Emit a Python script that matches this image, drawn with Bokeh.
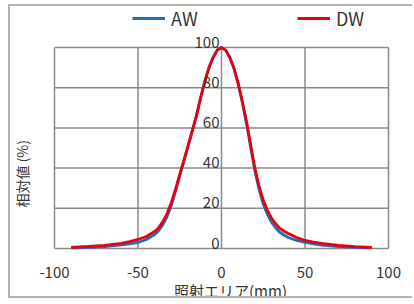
import math
from bokeh.plotting import figure
from bokeh.models import Range1d, Label, Legend, LegendItem
from bokeh.embed import file_html
from bokeh.resources import INLINE

# data
x_aw = [-90, -80, -70, -60, -55, -50, -45, -40, -37.5, -35, -32.5, -30, -27.5, -25, -22.5,
        -20, -17.5, -15, -12.5, -10, -7.5, -5, -2.5, 0, 2.5, 5, 7.5, 10, 12.5, 15, 17.5,
        20, 22.5, 25, 27.5, 30, 32.5, 35, 37.5, 40, 45, 50, 55, 60, 70, 80, 88]
aw = [0.3, 0.6, 1.0, 1.8, 2.3, 3.0, 4.5, 7.0, 9.0, 12, 16, 21.5, 28.5, 36, 43.5,
      51, 58.5, 66, 75, 83, 90, 95, 98.8, 100, 98.7, 95, 89.5, 82, 72.5, 62, 50,
      38.5, 29.5, 22, 17, 13, 10.2, 8, 6.6, 5.5, 4.0, 3.0, 2.3, 1.7, 1.0, 0.6, 0.3]
x_dw = [-90, -80, -70, -60, -55, -50, -45, -40, -37.5, -35, -32.5, -30, -27.5, -25, -22.5,
        -20, -17.5, -15, -12.5, -10, -7.5, -5, -2.5, 0, 2.5, 5, 7.5, 10, 12.5, 15, 17.5,
        20, 22.5, 25, 27.5, 30, 32.5, 35, 37.5, 40, 45, 50, 55, 60, 70, 80, 90]
dw = [0.6, 1.0, 1.6, 2.6, 3.4, 4.5, 6.0, 8.5, 10.5, 13.5, 17.5, 23, 29.5, 37, 44,
      51, 58.5, 66, 75, 83, 90, 95, 98.8, 100, 98.7, 95, 89.5, 82, 73, 63, 51.5,
      40, 31, 24, 19, 15, 12.2, 10, 8.6, 7.5, 5.5, 4.0, 3.2, 2.5, 1.5, 0.9, 0.5]
x_ticks = [-100, -50, 0, 50, 100]
x_tick_labels = ["-100", "-50", "0", "50", "100"]
y_ticks = [0, 20, 40, 60, 80, 100]
y_tick_labels = ["0", "20", "40", "60", "80", "100"]
x_title = "照射エリア(mm)"
y_title = "相対値 (%)"

FONT = "Noto Sans CJK JP"
TXT = "#333333"
GRID = "#8a8a8a"
BLUE = "#1f6fb6"
RED = "#e60012"

X_LO, X_HI = x_ticks[0], x_ticks[-1]
Y_LO, Y_HI = y_ticks[0], y_ticks[-1]
# the frame fills the whole canvas; ranges leave room for the texts round the grid box
X_RANGE = (-126.35, 115.57)
Y_RANGE = (-25.87, 120.4)

p = figure(width=404, height=294, output_backend="svg", toolbar_location=None,
           x_range=Range1d(*X_RANGE), y_range=Range1d(*Y_RANGE), min_border=0)
p.styles = {"border-left": "2px solid #b4b4b4", "border-top": "2px solid #b4b4b4",
            "border-bottom": "2px solid #b4b4b4", "margin-left": "8px", "margin-top": "4px"}
p.outline_line_color = None
p.grid.visible = False
p.xaxis.visible = False
p.yaxis.visible = False

# grid box drawn from the tick arrays
p.segment(x0=x_ticks, y0=[Y_LO] * len(x_ticks), x1=x_ticks, y1=[Y_HI] * len(x_ticks),
          line_color=GRID, line_width=1.5)
p.segment(x0=[X_LO] * len(y_ticks), y0=y_ticks, x1=[X_HI] * len(y_ticks), y1=y_ticks,
          line_color=GRID, line_width=1.5)

r_aw = p.line(x_aw, aw, line_color=BLUE, line_width=2.8)
r_dw = p.line(x_dw, dw, line_color=RED, line_width=2.8)

# y tick labels, next to the x=0 grid line
for yv, t in zip(y_ticks, y_tick_labels):
    p.add_layout(Label(x=0, y=yv, text=t, text_align="right", text_baseline="bottom",
                       x_offset=-2, y_offset=0, text_font=FONT, text_font_size="15px",
                       text_color=TXT))
# x tick labels, under the grid box
for xv, t in zip(x_ticks, x_tick_labels):
    p.add_layout(Label(x=xv, y=Y_LO, text=t, text_align="center", text_baseline="alphabetic",
                       y_offset=-24, text_font=FONT, text_font_size="15px",
                       text_color=TXT))
# axis titles
p.add_layout(Label(x=0, y=Y_LO, text=x_title, text_align="center", text_baseline="middle",
                   x_offset=9, y_offset=-42, text_font=FONT, text_font_size="15px",
                   text_color=TXT))
p.add_layout(Label(x=X_LO, y=Y_LO, text=y_title, text_align="left", text_baseline="middle",
                   x_offset=-33, y_offset=41, angle=math.pi / 2, angle_units="rad",
                   text_font=FONT, text_font_size="14px", text_color=TXT))

for name, r, loc in [("AW", r_aw, (122, 269)), ("DW", r_dw, (287, 269))]:
    lg = Legend(items=[LegendItem(label=name, renderers=[r])], location=loc,
                orientation="horizontal", padding=0, margin=0, spacing=0,
                glyph_width=33, glyph_height=20, label_height=20, label_standoff=6,
                label_text_font=FONT, label_text_font_size="18px", label_text_color=TXT,
                border_line_color=None, background_fill_alpha=0)
    p.add_layout(lg)

open("out.html", "w").write(file_html(p, INLINE))
